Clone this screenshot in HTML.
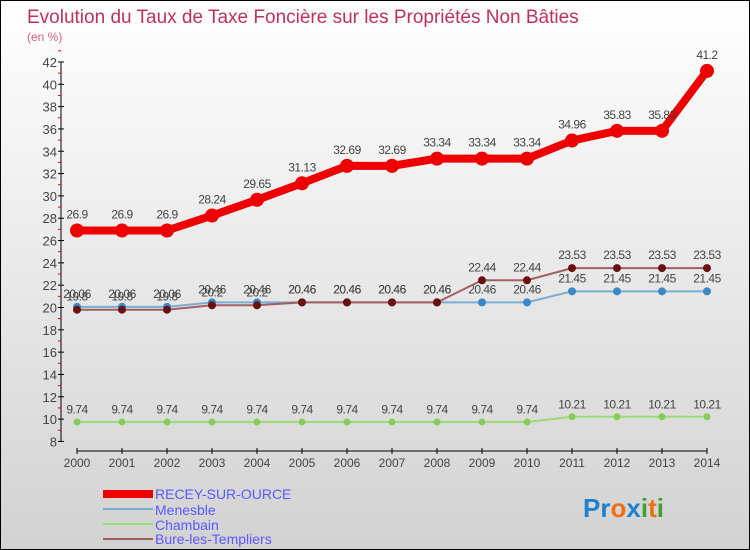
<!DOCTYPE html>
<html><head><meta charset="utf-8"><style>
body{margin:0}
#c{width:750px;height:550px;position:relative;overflow:hidden;box-sizing:border-box;border:1px solid #000;background:linear-gradient(#ffffff,#d2d2d2);font-family:"Liberation Sans",sans-serif}
</style></head><body>
<div id="c">
<svg id="s" width="750" height="550" style="position:absolute;left:0;top:0">
<text x="26" y="22" font-size="19" fill="#c0305e">Evolution du Taux de Taxe Foncière sur les Propriétés Non Bâties</text>
<text x="26" y="40" font-size="12" fill="#d06088">(en %)</text>
<g id="axes"></g>
<g id="series"></g>
<g>
<rect x="102" y="489" width="50" height="8" fill="#e00"/>
<text x="154" y="498" font-size="14" fill="#5a5aff">RECEY-SUR-OURCE</text>
<rect x="102" y="507" width="50" height="2" fill="#7aaed0"/>
<text x="154" y="514" font-size="14" fill="#5a5aff">Menesble</text>
<rect x="102" y="522" width="50" height="2" fill="#99dd77"/>
<text x="154" y="529" font-size="14" fill="#5a5aff">Chambain</text>
<rect x="102" y="537" width="50" height="2" fill="#a06060"/>
<text x="154" y="543" font-size="14" fill="#5a5aff">Bure-les-Templiers</text>
</g>
<text x="582" y="516" font-size="26" font-weight="bold"><tspan fill="#2080d0">Pr</tspan><tspan fill="#f07010">o</tspan><tspan fill="#2080d0">x</tspan><tspan fill="#40a030">i</tspan><tspan fill="#f07010">t</tspan><tspan fill="#40a030">i</tspan></text>
</svg>
</div>
<script>
const years=[2000,2001,2002,2003,2004,2005,2006,2007,2008,2009,2010,2011,2012,2013,2014];
const recey=[26.9,26.9,26.9,28.24,29.65,31.13,32.69,32.69,33.34,33.34,33.34,34.96,35.83,35.83,41.2];
const menesble=[20.06,20.06,20.06,20.46,20.46,20.46,20.46,20.46,20.46,20.46,20.46,21.45,21.45,21.45,21.45];
const chambain=[9.74,9.74,9.74,9.74,9.74,9.74,9.74,9.74,9.74,9.74,9.74,10.21,10.21,10.21,10.21];
const bure=[19.8,19.8,19.8,20.2,20.2,20.46,20.46,20.46,20.46,22.44,22.44,23.53,23.53,23.53,23.53];
const yTicks=[8,10,12,14,16,18,20,22,24,26,28,30,32,34,36,38,40,42];
const NS="http://www.w3.org/2000/svg";
const X=i=>76+i*45;
const Y=v=>306.5-(v-20)*11.16;
function mk(t,a,p){const e=document.createElementNS(NS,t);for(const k in a)e.setAttribute(k,a[k]);p.appendChild(e);return e;}
const ax=document.getElementById('axes');
let l=mk('line',{x1:60,y1:Y(42),x2:60,y2:Y(8),stroke:'#000'},ax);


l=mk('line',{x1:76,y1:450,x2:706,y2:450,stroke:'#000'},ax);


yTicks.forEach(v=>{
 mk('line',{x1:57,y1:Y(v),x2:63,y2:Y(v),stroke:'#000'},ax);
 mk('line',{x1:57,y1:Y(v+1),x2:60,y2:Y(v+1),stroke:'#e00'},ax);
 const t=mk('text',{x:56,y:Y(v)+5,'font-size':13,fill:'#444','text-anchor':'end'},ax);
 t.textContent=v;
 
 
});
years.forEach((yr,i)=>{
 mk('line',{x1:X(i),y1:447,x2:X(i),y2:453,stroke:'#000'},ax);
 const t=mk('text',{x:X(i),y:466,'font-size':12,fill:'#444','text-anchor':'middle'},ax);
 t.textContent=yr;
 
 
});
const sg=document.getElementById('series');
function draw(vals,name,col,dot,w,r,fs){
 const g=mk('g',{},sg);
 
 
 const pl=mk('polyline',{points:vals.map((v,i)=>X(i)+','+Y(v)).join(' '),fill:'none',stroke:col,'stroke-width':w,'stroke-linejoin':'round'},g);
 
 
 vals.forEach((v,i)=>{
  const c=mk('circle',{cx:X(i),cy:Y(v),r:r,fill:dot},g);
  
  
  const t=mk('text',{x:X(i),y:Y(v)-r-5,'font-size':fs,fill:'#444','text-anchor':'middle','letter-spacing':'-0.5'},g);
  t.textContent=v;
  
  
 });
}
draw(chambain,'chambain','#99dd77','#88cc55',2,3.5,12);
draw(menesble,'menesble','#7aaed0','#3a88c8',2,4,12);
draw(bure,'bure','#a06060','#6a1010',2,4,12);
draw(recey,'recey','#e00','#e00',8,7,12);
</script>
</body></html>
